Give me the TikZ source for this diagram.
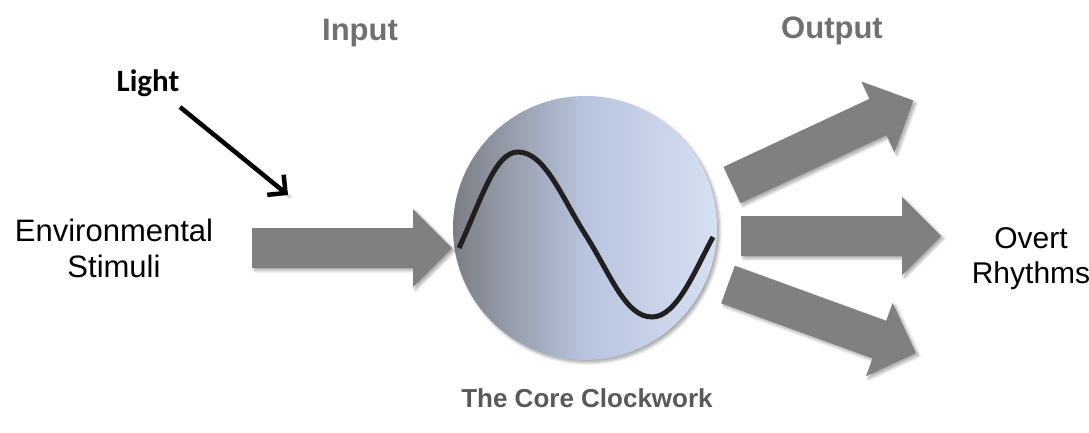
\documentclass[tikz,border=0pt]{standalone}
\usepackage{fontspec}
\setmainfont{Liberation Sans}
\newfontfamily\calfont{Carlito}
\usetikzlibrary{shadows.blur,arrows.meta}
\definecolor{arrowgrey}{RGB}{128,128,128}
\definecolor{labelgrey}{RGB}{112,112,112}
\definecolor{darkgreylbl}{RGB}{89,89,89}
\definecolor{circleleft}{RGB}{124,126,132}
\definecolor{circlemid}{RGB}{184,196,222}
\definecolor{circleright}{RGB}{214,224,242}
\tikzset{
  softshadow/.style={blur shadow={shadow xshift=2.5pt, shadow yshift=-2.5pt, shadow blur steps=6, shadow opacity=35, shadow blur radius=3pt}},
  blockarrow/.pic={
    \fill[arrowgrey, softshadow] (0,-20) -- (161,-20) -- (161,-39) -- (200,0) -- (161,39) -- (161,20) -- (0,20) -- cycle;
  },
  plainlbl/.style={font=\fontsize{31}{36}\selectfont, text=black, inner sep=0pt, anchor=base},
  headlbl/.style={font=\fontsize{31}{36}\selectfont\bfseries, text=labelgrey, inner sep=0pt, anchor=base},
}
\begin{document}
\begin{tikzpicture}[x=1pt,y=-1pt]
\useasboundingbox (0,0) rectangle (1089,432);
% circle
\path[softshadow, left color=circleleft, right color=circleright, middle color=circlemid, shading angle=90] (585,228) circle (132);
\node[circle, minimum size=264pt, inner sep=0pt] (clock) at (585,228) {};
% sine wave
\draw[line width=5pt, color={rgb,255:red,32;green,32;blue,32}]
  (459,248) .. controls (482,198) and (495,152) .. (518,152)
  .. controls (545,152) and (562,198) .. (585,234)
  .. controls (610,273) and (625,317) .. (652,317)
  .. controls (677,317) and (695,270) .. (713,237);
% block arrows
\pic at (252,248) {blockarrow};
\pic[rotate=25] at (732,185) {blockarrow};
\pic at (741,236) {blockarrow};
\pic[rotate=-20] at (728,284.5) {blockarrow};
% labels
\node[headlbl] (input) at (360,40) {Input};
\node[headlbl] (output) at (832,38) {Output};
\node[font=\calfont\fontsize{31}{36}\selectfont\bfseries, inner sep=0pt, anchor=base] (light) at (148,91) {Light};
\node[plainlbl] (env1) at (114,241) {Environmental};
\node[plainlbl] (env2) at (114,277) {Stimuli};
\node[plainlbl, font=\fontsize{30}{36}\selectfont] (overt1) at (1031,248) {Overt};
\node[plainlbl, font=\fontsize{30}{36}\selectfont] (overt2) at (1031,283) {Rhythms};
\node[font=\fontsize{26}{30}\selectfont\bfseries, text=darkgreylbl, inner sep=0pt, anchor=base] (core) at (587,407) {The Core Clockwork};
% light arrow
\coordinate (lightstart) at (180,107);
\coordinate (lightend) at (288,195);
\draw[line width=4.5pt, -{Straight Barb[length=13pt,width=26pt]}, softshadow] (lightstart) -- (lightend);
\end{tikzpicture}
\end{document}
